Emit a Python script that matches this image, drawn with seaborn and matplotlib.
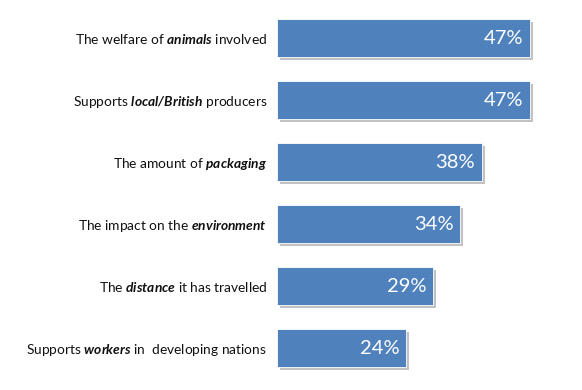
# horizontal bar chart of purchase considerations with seaborn.

import matplotlib
matplotlib.use('Agg')
import matplotlib.pyplot as plt
import matplotlib.patheffects as pe
import pandas as pd
import seaborn as sns

labels = [
    r'The welfare of $\mathbf{animals}$ involved',
    r'Supports $\mathbf{local/British}$ producers',
    r'The amount of $\mathbf{packaging}$',
    r'The impact on the $\mathbf{environment}$',
    r'The $\mathbf{distance}$ it has travelled',
    r'Supports $\mathbf{workers}$ in  developing nations',
]
values = [47, 47, 38, 34, 29, 24]

df = pd.DataFrame({'label': labels, 'value': values})

sns.set_style('white')
plt.rcParams['font.family'] = ['Lato', 'DejaVu Sans']
plt.rcParams['mathtext.fontset'] = 'custom'
plt.rcParams['mathtext.rm'] = 'Lato'
plt.rcParams['mathtext.bf'] = 'Lato:italic:bold'

fig = plt.figure(figsize=(5.82, 3.9), dpi=100)
ax = fig.add_axes([277 / 582, 11 / 390, 302 / 582, 372 / 390])

sns.barplot(data=df, x='value', y='label', color='#4f81bd', width=0.613,
            saturation=1, ax=ax)

# drop shadow on the bars
for bar in ax.patches:
    bar.set_edgecolor('white')
    bar.set_linewidth(0.6)
    bar.set_path_effects([pe.SimplePatchShadow(offset=(2, -2), shadow_rgbFace='#9a9a9a', alpha=0.6),
                          pe.Normal()])

# percentage labels inside the bar ends
for i, v in enumerate(values):
    ax.annotate(f'{v}%', xy=(v, i), xytext=(-5, 0), textcoords='offset points',
                ha='right', va='center', color='white', fontsize=14.5)

ax.set_xlim(0, 56)
ax.set_ylim(5.5, -0.5)
ax.set_xlabel('')
ax.set_ylabel('')
ax.set_xticks([])
ax.tick_params(axis='y', length=0, pad=7, labelsize=9.9, labelcolor='#111111')
sns.despine(ax=ax, left=True, bottom=True)

fig.savefig('out.png', dpi=100)
